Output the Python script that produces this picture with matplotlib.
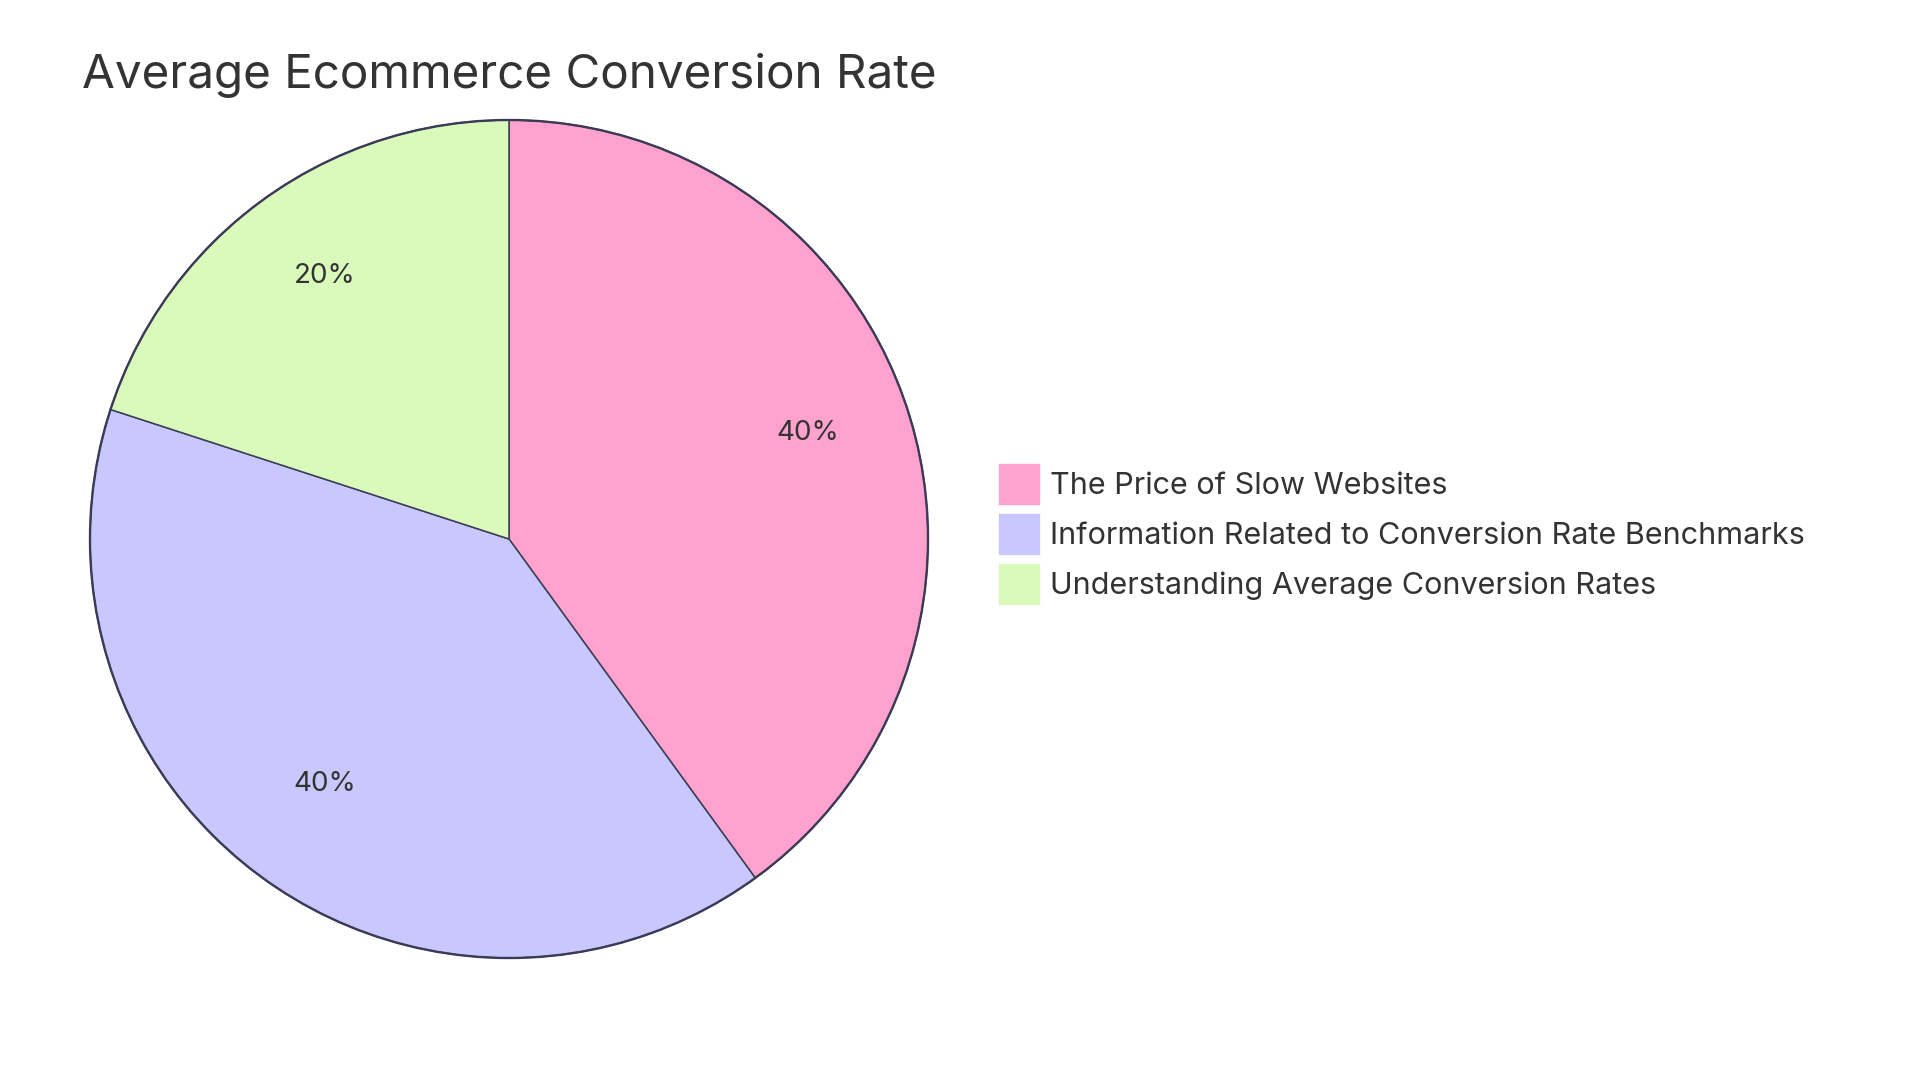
import matplotlib.pyplot as plt
from matplotlib.patches import Patch, Circle

plt.rcParams['font.family'] = ['Inter', 'DejaVu Sans']

labels = ['The Price of Slow Websites',
          'Information Related to Conversion Rate Benchmarks',
          'Understanding Average Conversion Rates']
values = [40, 40, 20]
colors = ['#FFA3CE', '#C8C8FE', '#DAFABB']
title = 'Average Ecommerce Conversion Rate'

text_color = '#333333'
edge_color = '#3b3b58'

fig = plt.figure(figsize=(19.2, 10.8), dpi=100)
W, H = 1920, 1080
cx, cy, r = 509, 539, 419
ax = fig.add_axes([(cx - r) / W, (H - cy - r) / H, 2 * r / W, 2 * r / H])

wedges, texts, autotexts = ax.pie(
    values, colors=colors, startangle=90, counterclock=False,
    autopct='%1.0f%%', pctdistance=0.75,
    wedgeprops=dict(edgecolor=edge_color, linewidth=1.1),
    textprops=dict(fontsize=20, color=text_color))
# labels sit a little above the slice centroid
for t in autotexts:
    x, y = t.get_position()
    t.set_position((x, y + 0.022))
for w in wedges:
    w.set_clip_on(False)
ax.add_patch(Circle((0, 0), 1, fill=False, edgecolor=edge_color,
                    linewidth=1.7, clip_on=False))
ax.set_xlim(-1, 1)
ax.set_ylim(-1, 1)
ax.set_aspect('equal')
ax.axis('off')

fig.text(82 / W, 1 - 88 / H, title, fontsize=34.3, color=text_color,
         ha='left', va='baseline')

handles = [Patch(facecolor=c, edgecolor='white', linewidth=0.5) for c in colors]
fig.legend(handles, labels, loc='upper left',
           bbox_to_anchor=(998 / W, 1 - 463 / H),
           frameon=False, fontsize=22, labelcolor=text_color,
           handlelength=1.36, handleheight=1.715, handletextpad=0.33,
           labelspacing=0.28, borderpad=0, borderaxespad=0)

fig.savefig('out.png', dpi=100, facecolor='white')
